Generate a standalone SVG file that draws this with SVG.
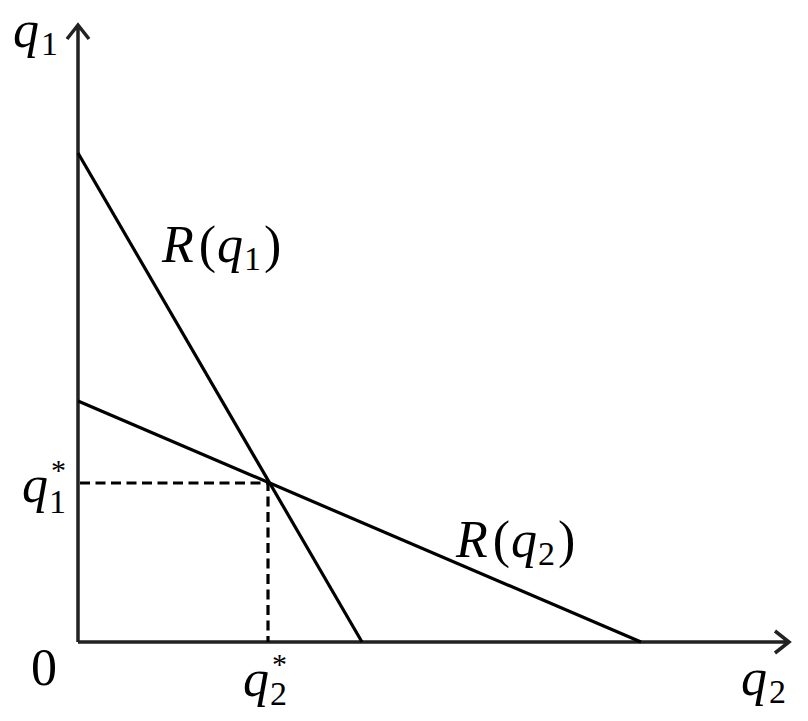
<svg xmlns="http://www.w3.org/2000/svg" width="808" height="721" viewBox="0 0 808 721">
<style>
.ax{stroke:#222;stroke-width:3.5;fill:none}
.ln{stroke:#000;stroke-width:3.2;fill:none}
.ds{stroke:#000;stroke-width:3.2;fill:none;stroke-dasharray:10 5.5}
text{font-family:'Liberation Serif','Times New Roman',Times,serif;fill:#000}
.it{font-style:italic}
.sb{font-style:normal;font-size:34px}
.st{font-style:normal;font-size:30px}
</style>
<rect width="808" height="721" fill="#fff"/>
<g id="connectors">
<path class="ax" d="M78,642 V25 M67,39 L78,25 L89,39"/>
<path class="ax" d="M78,642 H789 M775,631 L789,642 L775,653"/>
<line class="ln" x1="78" y1="153" x2="362" y2="642"/>
<line class="ln" x1="78" y1="401" x2="641" y2="642"/>
<path class="ds" d="M80,483 H268 V642"/>
</g>
<g id="label-q1-axis"><text class="it" x="13" y="47" font-size="52">q<tspan class="sb" dx="2" dy="8">1</tspan></text></g>
<g id="label-Rq1"><text x="162" y="262" font-size="52"><tspan class="it">R</tspan><tspan dx="5">(</tspan><tspan class="it" dx="1">q</tspan><tspan class="sb" dx="1" dy="8">1</tspan><tspan dx="3" dy="-8">)</tspan></text></g>
<g id="label-Rq2"><text x="456" y="557" font-size="52"><tspan class="it">R</tspan><tspan dx="5">(</tspan><tspan class="it" dx="1">q</tspan><tspan class="sb" dx="1" dy="8">2</tspan><tspan dx="3" dy="-8">)</tspan></text></g>
<g id="label-q1star"><text class="it" x="22" y="502" font-size="52">q<tspan class="st" dx="3" dy="-22">*</tspan><tspan class="sb" dx="-17" dy="33">1</tspan></text></g>
<g id="label-zero"><text x="31" y="685" font-size="52">0</text></g>
<g id="label-q2star"><text class="it" x="243" y="696" font-size="52">q<tspan class="st" dx="3" dy="-22">*</tspan><tspan class="sb" dx="-17" dy="31">2</tspan></text></g>
<g id="label-q2-axis"><text class="it" x="741" y="695" font-size="52">q<tspan class="sb" dx="2" dy="8">2</tspan></text></g>
</svg>
